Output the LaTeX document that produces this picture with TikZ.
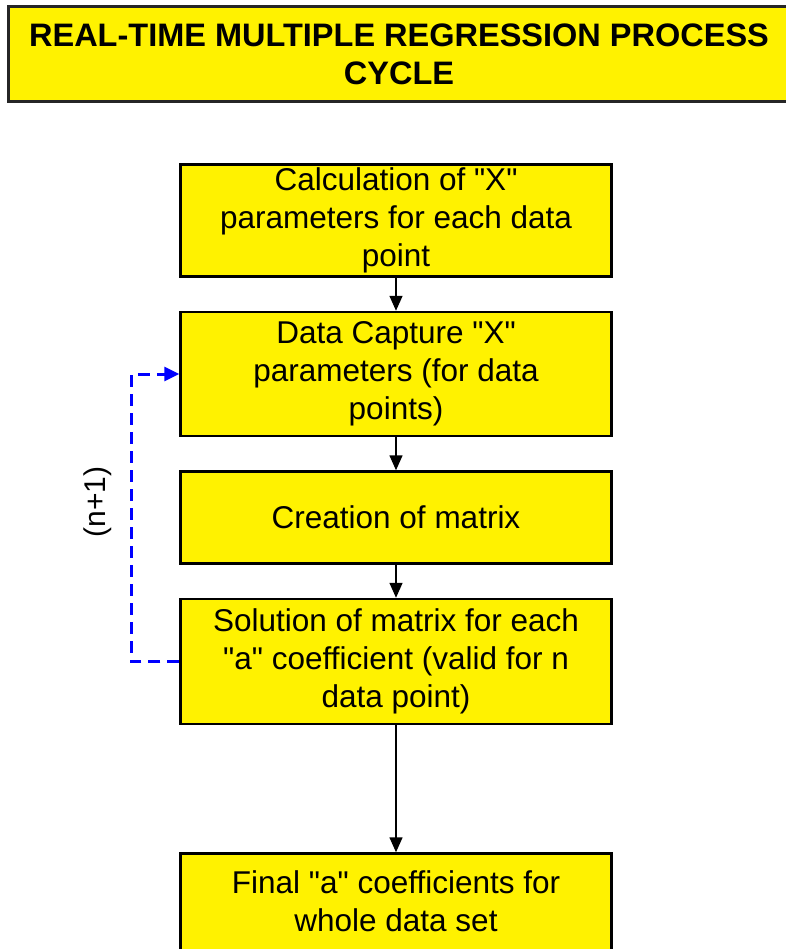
\documentclass[tikz,border=0pt]{standalone}
\usepackage{fontspec}
\setmainfont{Liberation Sans}
\usetikzlibrary{positioning,arrows.meta}

\begin{document}
\begin{tikzpicture}[
x=1pt, y=1pt,
node distance=33pt,
    stage/.style = {rectangle, draw=black, fill=yellow,% boxes of the cycle
                line width=2.5pt, minimum width=431pt, align=center,
                font=\fontsize{31.5}{38}\selectfont},
  heading/.style = {rectangle, draw=black!85, fill=yellow,% title bar
                line width=3pt, minimum width=781pt, minimum height=95pt,
                align=center, font=\fontsize{32.5}{38}\selectfont\bfseries},
     flow/.style = {line width=1.5pt, -{Triangle[length=15pt,width=13pt]}},
     back/.style = {blue, line width=3pt, dash pattern=on 12pt off 7pt,
                -{Triangle[length=15pt,width=14pt]}},
                        ]
\useasboundingbox (0,0) rectangle (785,-949);
\node[heading] (title) at (399,-54) {REAL-TIME MULTIPLE REGRESSION PROCESS\\CYCLE};
\node[stage, minimum height=112pt] (calc) at (396,-220.5)
     {Calculation of \textquotedbl X\textquotedbl\\parameters for each data\\point};
\node[stage, minimum height=124pt, below=of calc] (capt)
     {Data Capture \textquotedbl X\textquotedbl\\parameters (for data\\points)};
\node[stage, minimum height=92pt, below=of capt] (matr) {Creation of matrix};
\node[stage, minimum height=125pt, below=of matr] (solv)
     {Solution of matrix for each\\\textquotedbl a\textquotedbl{} coefficient (valid for n\\data point)};
\node[stage, inner ysep=17pt, text depth=40pt, below=127pt of solv] (fin)
     {Final \textquotedbl a\textquotedbl{} coefficients for\\whole data set};
\draw[flow] (calc) -- (capt);
\draw[flow] (capt) -- (matr);
\draw[flow] (matr) -- (solv);
\draw[flow] (solv) -- (fin);
% loop back for the next data point
\draw[back] (solv.west) -- ++(-48,0) |- (capt.west);
\node[rotate=90, font=\fontsize{30}{38}\selectfont] (count) at (98,-502) {(n+1)};
\end{tikzpicture}
\end{document}
